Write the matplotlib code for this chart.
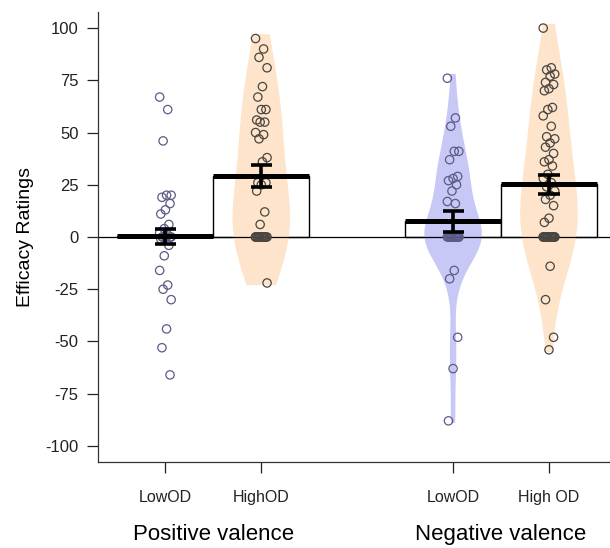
import numpy as np
import matplotlib
matplotlib.use("Agg")
import matplotlib.pyplot as plt

plt.rcParams['font.family'] = ['Liberation Sans', 'DejaVu Sans']

# ---- data ----
group_labels = ["LowOD", "HighOD", "LowOD", "High OD"]
valence_labels = ["Positive valence", "Negative valence"]
y_ticks = [-100, -75, -50, -25, 0, 25, 50, 75, 100]

pos_low = [67, 61, 46, 20, 20, 19, 16, 13, 11, 6, 4, 2, 1,
           0, 0, 0, 0, 0, 0, -1, -4, -9, -16, -23, -25, -30, -44, -53, -66]
pos_high = [95, 90, 86, 81, 72, 67, 61, 61, 56, 55, 55, 50, 49, 47, 38, 36,
            26, 26, 25, 22, 12, 6] + [0] * 14 + [-22]
neg_low = [76, 57, 53, 41, 41, 37, 29, 28, 27, 25, 22, 17, 16] + [0] * 13 + \
          [-16, -20, -48, -63, -88]
neg_high = [100, 81, 80, 78, 77, 74, 73, 71, 70, 62, 61, 58, 53, 48, 47, 45,
            43, 40, 37, 36, 34, 30, 28, 26, 24, 22, 20, 18, 15, 9, 7] + \
           [0] * 17 + [-14, -30, -48, -54]

means = [0.5, 29.0, 7.5, 25.5]
err_lo = [-3.3, 24.0, 2.4, 20.8]
err_hi = [3.8, 34.3, 12.4, 29.7]

# ---- styling ----
positions = [1, 2, 4, 5]
groups = [pos_low, pos_high, neg_low, neg_high]
bean_colors = [None, "#FDE4CA", "#C8C8F7", "#FDE4CA"]
bw_scale = [1.0, 1.6, 1.3, 1.6]
point_colors = ["#5B5B86", "#4A4641", "#5B5B86", "#4A4641"]

fig = plt.figure(figsize=(6.10, 5.48), dpi=100)
ax = fig.add_axes([98 / 610, 1 - 462 / 548, 1 - 98 / 610 + 0.01, (462 - 12) / 548])
ax.set_xlim(0.297, 5.70)
ax.set_ylim(-107.7, 107.7)


def kde(vals, grid, scale):
    v = np.asarray(vals, float)
    n = len(v)
    sd = v.std(ddof=1)
    iqr = np.subtract(*np.percentile(v, [75, 25]))
    bw = 0.9 * min(sd, iqr / 1.34 if iqr > 0 else sd) * n ** -0.2 * scale
    d = np.exp(-0.5 * ((grid[:, None] - v[None, :]) / bw) ** 2).sum(1)
    return d


for i, (pos, vals) in enumerate(zip(positions, groups)):
    ax.bar(pos, means[i], width=1.0, facecolor="white", edgecolor="black",
           linewidth=1.0, zorder=1)
    if bean_colors[i] is not None:
        grid = np.linspace(min(vals) - 1, max(vals) + 2, 400)
        d = kde(vals, grid, bw_scale[i])
        w = d / d.max() * 0.30
        ax.fill_betweenx(grid, pos - w, pos + w, facecolor=bean_colors[i],
                         edgecolor="none", zorder=2)

ax.axhline(0, color="black", lw=0.9, zorder=2.5)

for i, (pos, vals) in enumerate(zip(positions, groups)):
    n = len(vals)
    jit = np.array([((k * 7) % 11 - 5) / 5.0 * 0.06 for k in range(n)])
    ax.scatter(pos + jit, vals, s=36, facecolors="none",
               edgecolors=point_colors[i], linewidths=0.9, zorder=3)
    ax.plot([pos - 0.5, pos + 0.5], [means[i], means[i]], color="black",
            lw=3.6, solid_capstyle="butt", zorder=4)
    ax.plot([pos, pos], [err_lo[i], err_hi[i]], color="black", lw=2.6,
            solid_capstyle="butt", zorder=4)
    for yy in (err_lo[i], err_hi[i]):
        ax.plot([pos - 0.11, pos + 0.11], [yy, yy], color="black", lw=2.6,
                solid_capstyle="butt", zorder=4)

for s in ["top", "right"]:
    ax.spines[s].set_visible(False)
for s in ["left", "bottom"]:
    ax.spines[s].set_linewidth(0.9)
    ax.spines[s].set_color("#333333")

ax.set_yticks(y_ticks)
ax.set_yticklabels([str(t) for t in y_ticks])
ax.set_xticks(positions)
ax.set_xticklabels(group_labels)
ax.tick_params(axis="y", length=8, width=0.9, labelsize=12, pad=6, colors="#222222")
ax.tick_params(axis="x", length=8, width=0.9, labelsize=11.5, pad=12, colors="#222222")
ax.set_ylabel("Efficacy Ratings", fontsize=14, labelpad=8)

trans = matplotlib.transforms.blended_transform_factory(ax.transData, fig.transFigure)
for lbl, xc in zip(valence_labels, [1.5, 4.5]):
    ax.text(xc, 3 / 548, lbl, transform=trans, ha="center",
            va="bottom", fontsize=16, clip_on=False)

fig.savefig("out.png", dpi=100)
